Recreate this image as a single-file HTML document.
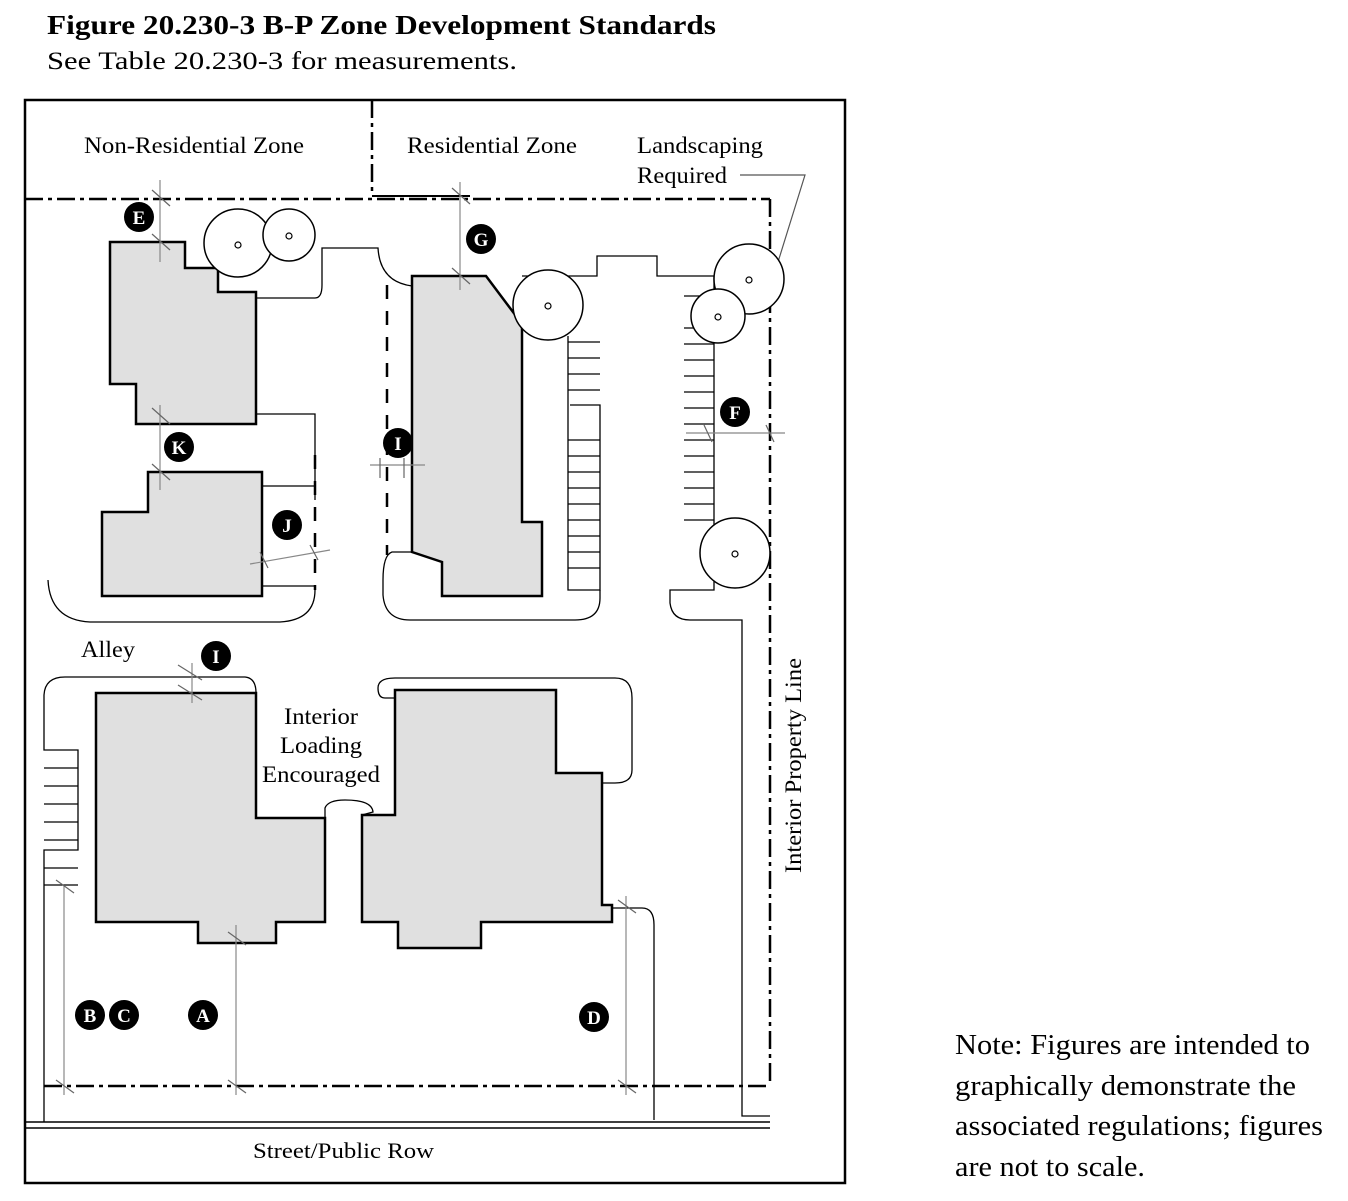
<!DOCTYPE html>
<html><head><meta charset="utf-8"><style>
html,body{margin:0;padding:0;background:#fff;}
svg{display:block;font-family:"Liberation Serif",serif;}
</style></head><body>
<svg width="1348" height="1201" viewBox="0 0 1348 1201" xmlns="http://www.w3.org/2000/svg">
<text x="47" y="34" font-size="27" font-weight="bold" textLength="669" lengthAdjust="spacingAndGlyphs">Figure 20.230-3   B-P Zone Development Standards</text>
<text x="47" y="69" font-size="25" textLength="470" lengthAdjust="spacingAndGlyphs">See Table 20.230-3 for measurements.</text>
<rect x="25" y="100" width="820" height="1083" fill="none" stroke="#000" stroke-width="2.5"/>
<g stroke="#000" stroke-width="2.5" fill="none" stroke-dasharray="18,5,4,5">
<line x1="372" y1="100" x2="372" y2="196"/>
<line x1="25" y1="199" x2="770" y2="199"/>
<line x1="770" y1="199" x2="770" y2="1086"/>
<line x1="44" y1="1086" x2="770" y2="1086"/>
</g>
<line x1="372" y1="196" x2="470" y2="196" stroke="#000" stroke-width="2"/>
<line x1="25" y1="1122" x2="770" y2="1122" stroke="#000" stroke-width="1.5"/>
<line x1="25" y1="1128" x2="770" y2="1128" stroke="#000" stroke-width="1.5"/>
<g font-size="23" lengthAdjust="spacingAndGlyphs">
<text x="84" y="153" textLength="220" lengthAdjust="spacingAndGlyphs">Non-Residential Zone</text>
<text x="407" y="153" textLength="170" lengthAdjust="spacingAndGlyphs">Residential Zone</text>
<text x="637" y="153" textLength="126" lengthAdjust="spacingAndGlyphs">Landscaping</text>
<text x="637" y="183" textLength="90" lengthAdjust="spacingAndGlyphs">Required</text>
<text x="81" y="657" textLength="54" lengthAdjust="spacingAndGlyphs">Alley</text>
<text x="284" y="724" textLength="74" lengthAdjust="spacingAndGlyphs">Interior</text>
<text x="280" y="753" textLength="82" lengthAdjust="spacingAndGlyphs">Loading</text>
<text x="262" y="782" textLength="118" lengthAdjust="spacingAndGlyphs">Encouraged</text>
<text x="253" y="1158" font-size="22" textLength="181" lengthAdjust="spacingAndGlyphs">Street/Public Row</text>
<text transform="translate(801,873) rotate(-90)" textLength="215" lengthAdjust="spacingAndGlyphs">Interior Property Line</text>
</g>
<g font-size="28"><text x="955" y="1054" textLength="355" lengthAdjust="spacingAndGlyphs">Note: Figures are intended to</text>
<text x="955" y="1095" textLength="341" lengthAdjust="spacingAndGlyphs">graphically demonstrate the</text>
<text x="955" y="1135" textLength="368" lengthAdjust="spacingAndGlyphs">associated regulations; figures</text>
<text x="955" y="1176" textLength="190" lengthAdjust="spacingAndGlyphs">are not to scale.</text></g>
<polyline points="740,175 805,175 778,262" fill="none" stroke="#555" stroke-width="1.2"/>
<g fill="none" stroke="#000" stroke-width="1.3">
<path d="M218,292 L218,298 L315,298 Q322,298 322,285 L322,248 L378,248 Q380,282 412,286"/>
<path d="M256,414 L315,414 L315,500"/>
<path d="M262,486 L315,486"/><path d="M262,586 L315,586 L315,590"/>
<path d="M48,580 Q50,620 90,622 L280,622 Q315,620 315,590"/>
<path d="M412,552 L392,552 Q383,555 383,580 L383,595 Q385,620 410,620 L575,620 Q600,620 600,598 L600,590"/>
<path d="M568,336 L568,590 L600,590 L600,405 L570,405"/>
<path d="M522,276 L597,276 L597,256 L657,256 L657,276 L714,276 L714,590 L670,590 L670,603 Q672,620 690,620 L742,620 L742,1116 L770,1116"/>
<path d="M44,1122 L44,850 L78,850 L78,750 L44,750 L44,695 Q45,677 65,677 L245,677 Q256,678 256,693"/>
<path d="M78,885 L44,885"/>
<path d="M325,818 L325,808 Q328,800 345,800 Q372,800 373,812 L362,815"/>
<path d="M395,698 L385,698 Q378,698 378,688 Q378,678 395,678 L615,678 Q632,678 632,698 L632,770 Q632,783 615,783 L602,783"/>
<path d="M612,908 L642,908 Q654,908 654,925 L654,1120"/>
</g>
<g stroke="#000" stroke-width="1.3">
<line x1="568" y1="342" x2="600" y2="342"/><line x1="568" y1="358" x2="600" y2="358"/><line x1="568" y1="374" x2="600" y2="374"/><line x1="568" y1="390" x2="600" y2="390"/>
<line x1="568" y1="440" x2="600" y2="440"/><line x1="568" y1="456" x2="600" y2="456"/><line x1="568" y1="472" x2="600" y2="472"/><line x1="568" y1="488" x2="600" y2="488"/><line x1="568" y1="504" x2="600" y2="504"/><line x1="568" y1="520" x2="600" y2="520"/><line x1="568" y1="536" x2="600" y2="536"/><line x1="568" y1="552" x2="600" y2="552"/><line x1="568" y1="568" x2="600" y2="568"/>
<line x1="684" y1="296" x2="714" y2="296"/><line x1="684" y1="328" x2="714" y2="328"/><line x1="684" y1="344" x2="714" y2="344"/><line x1="684" y1="360" x2="714" y2="360"/><line x1="684" y1="376" x2="714" y2="376"/><line x1="684" y1="392" x2="714" y2="392"/><line x1="684" y1="408" x2="714" y2="408"/><line x1="684" y1="424" x2="714" y2="424"/><line x1="684" y1="440" x2="714" y2="440"/><line x1="684" y1="456" x2="714" y2="456"/><line x1="684" y1="472" x2="714" y2="472"/><line x1="684" y1="488" x2="714" y2="488"/><line x1="684" y1="504" x2="714" y2="504"/><line x1="684" y1="520" x2="714" y2="520"/>
<line x1="44" y1="768" x2="78" y2="768"/><line x1="44" y1="786" x2="78" y2="786"/><line x1="44" y1="804" x2="78" y2="804"/><line x1="44" y1="822" x2="78" y2="822"/><line x1="44" y1="840" x2="78" y2="840"/><line x1="44" y1="868" x2="78" y2="868"/>
</g>
<g stroke="#000" stroke-width="2.5" stroke-dasharray="14,12">
<line x1="387" y1="285" x2="387" y2="555"/><line x1="315" y1="455" x2="315" y2="590"/>
</g>
<g fill="#e0e0e0" stroke="#000" stroke-width="2.5">
<polygon points="110,242 185,242 185,268 218,268 218,292 256,292 256,424 136,424 136,384 110,384"/>
<polygon points="148,472 262,472 262,596 102,596 102,512 148,512"/>
<polygon points="412,276 486,276 522,324 522,522 542,522 542,596 442,596 442,562 412,552"/>
<polygon points="96,693 256,693 256,818 325,818 325,922 276,922 276,943 198,943 198,922 96,922"/>
<polygon points="395,690 556,690 556,773 602,773 602,905 612,905 612,922 481,922 481,948 398,948 398,922 362,922 362,815 395,815"/>
</g>
<g fill="#fff" stroke="#000" stroke-width="1.5">
<circle cx="238" cy="243" r="34"/><circle cx="289" cy="235" r="26"/><circle cx="548" cy="305" r="35"/>
<circle cx="749" cy="279" r="35"/><circle cx="718" cy="316" r="27"/><circle cx="735" cy="553" r="35"/>
</g>
<g fill="#fff" stroke="#000" stroke-width="1.2">
<circle cx="238" cy="245" r="3"/><circle cx="289" cy="236" r="3"/><circle cx="548" cy="306" r="3"/><circle cx="749" cy="280" r="3"/><circle cx="718" cy="317" r="3"/><circle cx="735" cy="554" r="3"/>
</g>
<g stroke="#888" stroke-width="1.2">
<line x1="160" y1="180" x2="160" y2="262"/><line x1="460" y1="182" x2="460" y2="290"/>
<line x1="160" y1="405" x2="160" y2="490"/><line x1="370" y1="465" x2="425" y2="465"/>
<line x1="250" y1="564" x2="330" y2="550"/><line x1="686" y1="433" x2="785" y2="433"/>
<line x1="192" y1="663" x2="192" y2="703"/><line x1="64" y1="885" x2="64" y2="1095"/>
<line x1="236" y1="925" x2="236" y2="1095"/><line x1="626" y1="896" x2="626" y2="1095"/>
</g>
<g stroke="#666" stroke-width="1.2">
<line x1="152" y1="190" x2="170" y2="206"/><line x1="152" y1="234" x2="170" y2="250"/>
<line x1="452" y1="188" x2="470" y2="204"/><line x1="452" y1="268" x2="470" y2="284"/>
<line x1="152" y1="408" x2="170" y2="424"/><line x1="152" y1="464" x2="170" y2="480"/>
<line x1="380" y1="458" x2="380" y2="478"/><line x1="404" y1="458" x2="404" y2="478"/>
<line x1="178" y1="665" x2="202" y2="680"/><line x1="178" y1="685" x2="202" y2="700"/>
<line x1="56" y1="880" x2="74" y2="893"/><line x1="56" y1="1080" x2="74" y2="1093"/>
<line x1="228" y1="932" x2="246" y2="945"/><line x1="228" y1="1080" x2="246" y2="1093"/>
<line x1="618" y1="900" x2="636" y2="913"/><line x1="618" y1="1080" x2="636" y2="1093"/>
<line x1="704" y1="425" x2="712" y2="442"/><line x1="766" y1="425" x2="774" y2="442"/>
<line x1="260" y1="552" x2="268" y2="568"/><line x1="310" y1="545" x2="318" y2="560"/>
</g>
<g font-weight="bold" font-size="19" text-anchor="middle" fill="#fff">
<circle cx="139" cy="217" r="15" fill="#000"/><text x="139" y="224">E</text>
<circle cx="481" cy="239" r="15" fill="#000"/><text x="481" y="246">G</text>
<circle cx="179" cy="447" r="15" fill="#000"/><text x="179" y="454">K</text>
<circle cx="398" cy="443" r="15" fill="#000"/><text x="398" y="450">I</text>
<circle cx="735" cy="412" r="15" fill="#000"/><text x="735" y="419">F</text>
<circle cx="287" cy="525" r="15" fill="#000"/><text x="287" y="532">J</text>
<circle cx="216" cy="656" r="15" fill="#000"/><text x="216" y="663">I</text>
<circle cx="90" cy="1015" r="15" fill="#000"/><text x="90" y="1022">B</text>
<circle cx="124" cy="1015" r="15" fill="#000"/><text x="124" y="1022">C</text>
<circle cx="203" cy="1015" r="15" fill="#000"/><text x="203" y="1022">A</text>
<circle cx="594" cy="1017" r="15" fill="#000"/><text x="594" y="1024">D</text>
</g>
</svg>
</body></html>
